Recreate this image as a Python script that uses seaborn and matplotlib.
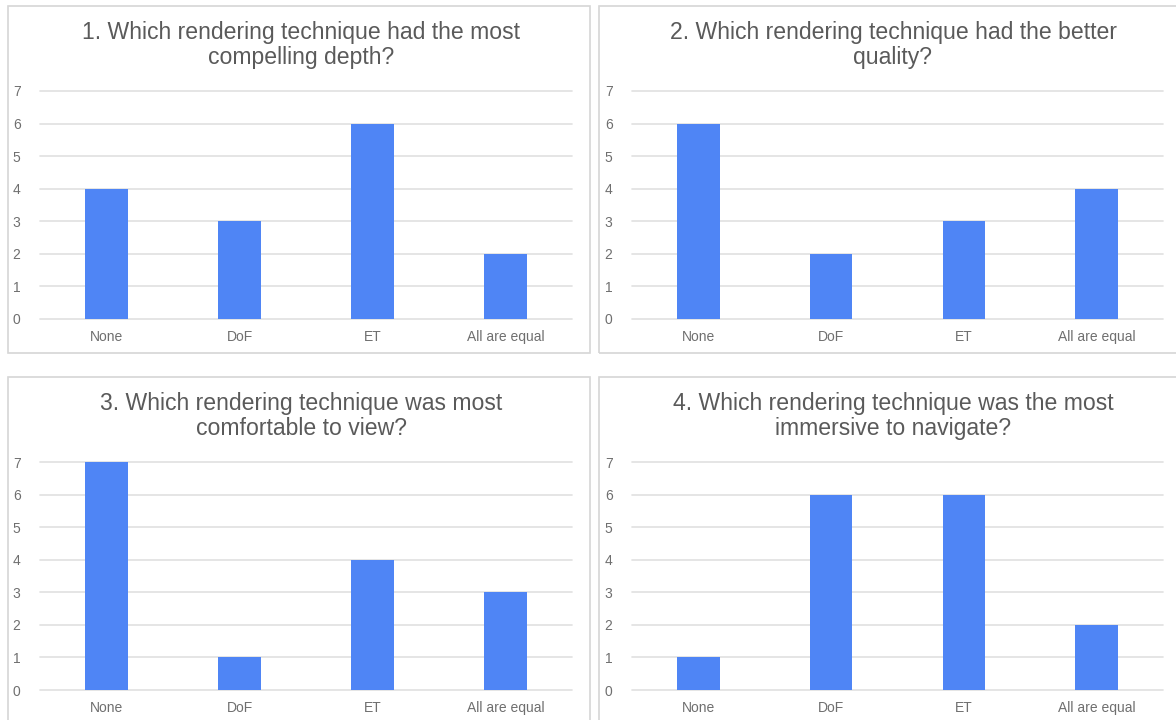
import matplotlib
matplotlib.use("Agg")
import matplotlib.pyplot as plt
import pandas as pd
import seaborn as sns
from matplotlib.patches import Rectangle


CATEGORIES = ["None", "DoF", "ET", "All are equal"]
TITLES = [
    "1. Which rendering technique had the most\ncompelling depth?",
    "2. Which rendering technique had the better\nquality?",
    "3. Which rendering technique was most\ncomfortable to view?",
    "4. Which rendering technique was the most\nimmersive to navigate?",
]
Q1_VALUES = [4, 3, 6, 2]
Q2_VALUES = [6, 2, 3, 4]
Q3_VALUES = [7, 1, 4, 3]
Q4_VALUES = [1, 6, 6, 2]
Y_TICKS = [0, 1, 2, 3, 4, 5, 6, 7]

BAR_COLOR = "#4f85f5"
GRID_COLOR = "#e0e0e0"
TICK_COLOR = "#6f6f6f"
TITLE_COLOR = "#5a5a5a"
BORDER_COLOR = "#d6d6d6"

W, H = 1176, 720


def px_box(x0, y0, x1, y1):
    # pixel coords (top-left origin) -> figure fraction [left, bottom, width, height]
    return [x0 / W, (H - y1) / H, (x1 - x0) / W, (y1 - y0) / H]


def draw_panel(fig, values, title, axes_px, frame_px):
    fx0, fy0, fx1, fy1 = frame_px
    fig.patches.append(Rectangle(
        (fx0 / W, (H - fy1) / H), (fx1 - fx0) / W, (fy1 - fy0) / H,
        transform=fig.transFigure, fill=False, edgecolor=BORDER_COLOR, linewidth=1.2,
    ))

    ax = fig.add_axes(px_box(*axes_px))
    df = pd.DataFrame({"Technique": CATEGORIES, "Count": values})
    sns.barplot(data=df, x="Technique", y="Count", color=BAR_COLOR, width=0.32,
                saturation=1, linewidth=0, ax=ax, zorder=3)
    ax.set_xlim(-0.5, len(CATEGORIES) - 0.5)
    ax.set_ylim(0, 7)
    ax.set_yticks(Y_TICKS)
    ax.set_xlabel("")
    ax.set_ylabel("")
    for spine in ax.spines.values():
        spine.set_visible(False)
    ax.grid(False)
    for t in Y_TICKS:
        ax.axhline(t, color=GRID_COLOR, linewidth=1.2, zorder=1, clip_on=False)
    ax.tick_params(axis="both", length=0, labelsize=10, colors=TICK_COLOR)
    ax.tick_params(axis="y", pad=14)
    ax.tick_params(axis="x", pad=8)

    # title sits a little left of the plot area's centre
    cx = ((axes_px[0] + axes_px[2]) / 2 - 4.5) / W
    ty = (H - (fy0 + 39)) / H
    fig.text(cx, ty, title, ha="center", va="center", fontsize=16.6,
             color=TITLE_COLOR, linespacing=1.1)


def main() -> None:
    sns.set_theme(style="white")
    plt.rcParams["font.family"] = ["Liberation Sans", "DejaVu Sans"]

    fig = plt.figure(figsize=(W / 100, H / 100), dpi=100)
    fig.patch.set_facecolor("white")

    panels = [
        (Q1_VALUES, TITLES[0], (40, 91, 572, 319), (8, 6, 590, 353)),
        (Q2_VALUES, TITLES[1], (632, 91, 1163, 319), (599, 6, 1190, 353)),
        (Q3_VALUES, TITLES[2], (40, 462, 572, 690), (8, 377, 590, 740)),
        (Q4_VALUES, TITLES[3], (632, 462, 1163, 690), (599, 377, 1190, 740)),
    ]
    for values, title, axes_px, frame_px in panels:
        draw_panel(fig, values, title, axes_px, frame_px)

    fig.savefig("out.png", dpi=100)
    plt.close(fig)


if __name__ == "__main__":
    main()
